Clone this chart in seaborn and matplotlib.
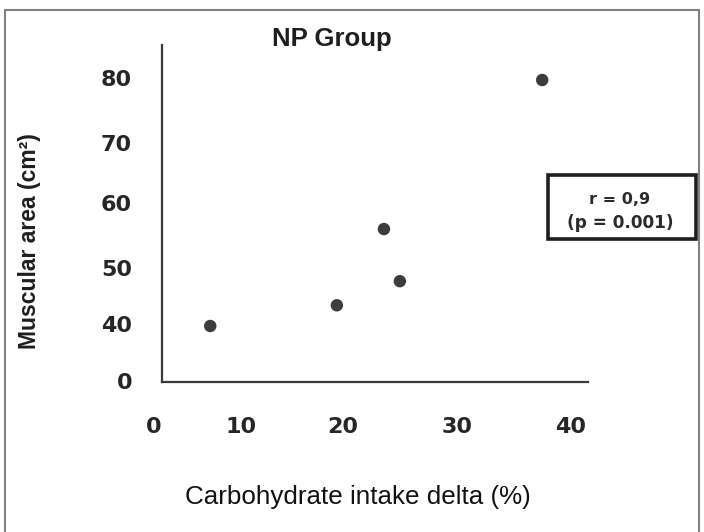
import numpy as np
import pandas as pd
import matplotlib
matplotlib.use("Agg")
import matplotlib.pyplot as plt
import seaborn as sns
from matplotlib.patches import Rectangle
from matplotlib.transforms import blended_transform_factory

# ---------------- data ----------------
carb_delta = [6.5, 19.4, 23.6, 25.0, 37.5]        # Carbohydrate intake delta (%)
muscular_area = [40.0, 43.7, 56.3, 48.0, 80.0]    # Muscular area (cm²)
x_tick_values = [0, 10, 20, 30, 40]
y_tick_values = [0, 40, 50, 60, 70, 80]
title_text = "NP Group"
x_label = "Carbohydrate intake delta (%)"
y_label = "Muscular area (cm²)"
stat_lines = ["r = 0,9", "(p = 0.001)"]

# ---------------- layout (pixel geometry of the hand-drawn axes) ----------------
W, H = 704, 532
X_SCALE_VAL = [-10, 0, 10, 20, 30, 40, 50]
X_SCALE_PX = [66.7, 153.7, 240.7, 343.0, 456.7, 570.7, 684.7]
Y_SCALE_VAL = [-10, 0, 40, 50, 60, 70, 80, 90]
Y_SCALE_PX = [397.6, 383.3, 326.0, 270.0, 205.0, 145.0, 80.0, 15.0]
AX_L, AX_R, AX_T, AX_B = 161.7, 588.3, 45.0, 381.7

xv, xp = np.array(X_SCALE_VAL, float), np.array(X_SCALE_PX, float)
yv, yp = np.array(Y_SCALE_VAL, float), -np.array(Y_SCALE_PX, float)


def fx(v):
    return np.interp(np.asarray(v, float), xv, xp)


def ix(p):
    return np.interp(np.asarray(p, float), xp, xv)


def fy(v):
    return np.interp(np.asarray(v, float), yv, yp)


def iy(p):
    return np.interp(np.asarray(p, float), yp, yv)


sns.set_theme(style="white")
plt.rcParams["font.family"] = ["Liberation Sans", "DejaVu Sans"]

fig = plt.figure(figsize=(W / 100, H / 100), dpi=100)
fig.patch.set_facecolor("white")
ax = fig.add_axes([AX_L / W, 1 - AX_B / H, (AX_R - AX_L) / W, (AX_B - AX_T) / H])
ax.set_facecolor("white")
ax.set_xscale("function", functions=(fx, ix))
ax.set_yscale("function", functions=(fy, iy))

df = pd.DataFrame({"carb": carb_delta, "area": muscular_area})
sns.scatterplot(data=df, x="carb", y="area", ax=ax, s=80, color="#3d3d3d",
                edgecolor="none", linewidth=0, zorder=3)

ax.set_xlim(float(ix(AX_L)), float(ix(AX_R)))
ax.set_ylim(float(iy(-AX_B)), float(iy(-AX_T)))
ax.set_xticks([])
ax.set_yticks([])
ax.set_xlabel("")
ax.set_ylabel("")
for side in ["top", "right"]:
    ax.spines[side].set_visible(False)
for side in ["left", "bottom"]:
    ax.spines[side].set_visible(True)
    ax.spines[side].set_color("#3a3a3a")
    ax.spines[side].set_linewidth(1.6)

# tick labels (drawn as text because they sit off the hand-drawn tick marks)
tx = blended_transform_factory(ax.transData, fig.transFigure)
for v in x_tick_values:
    ax.text(v, 1 - 427 / H, str(v), transform=tx, ha="center", va="center",
            fontsize=16, fontweight="bold", family="DejaVu Sans", color="#262626",
            clip_on=False)
ty = blended_transform_factory(fig.transFigure, ax.transData)
for v in y_tick_values:
    ax.text(132 / W, v, str(v), transform=ty, ha="right", va="center",
            fontsize=16, fontweight="bold", family="DejaVu Sans", color="#262626",
            clip_on=False)

# title and axis labels
fig.text(331.5 / W, 1 - 45.7 / H, title_text, ha="center", va="baseline",
         fontsize=18.5, fontweight="bold", color="#1e1e1e")
fig.text(30 / W, 1 - 241 / H, y_label, rotation=90, ha="center", va="center",
         fontsize=16.5, fontweight="bold", color="#1e1e1e")
fig.text(358 / W, 1 - 497 / H, x_label, ha="center", va="center",
         fontsize=18.7, color="#111111")

# statistics box
fig.patches.append(Rectangle((548.3 / W, 1 - 239 / H), (695.7 - 548.3) / W, (239 - 175) / H,
                             transform=fig.transFigure, fill=False, lw=2.6,
                             edgecolor="#1e1e1e"))
fig.text(620 / W, 1 - 199 / H, stat_lines[0], ha="center", va="center",
         fontsize=11.5, fontweight="bold", family="DejaVu Sans", color="#2a2a2a")
fig.text(620 / W, 1 - 223 / H, stat_lines[1], ha="center", va="center",
         fontsize=12.2, fontweight="bold", family="DejaVu Sans", color="#2a2a2a")

# outer frame
fig.patches.append(Rectangle((5 / W, -0.05), (699 - 5) / W, 1.05 - 10 / H,
                             transform=fig.transFigure, fill=False, lw=1.5,
                             edgecolor="#808080"))

fig.savefig("out.png", dpi=100)
